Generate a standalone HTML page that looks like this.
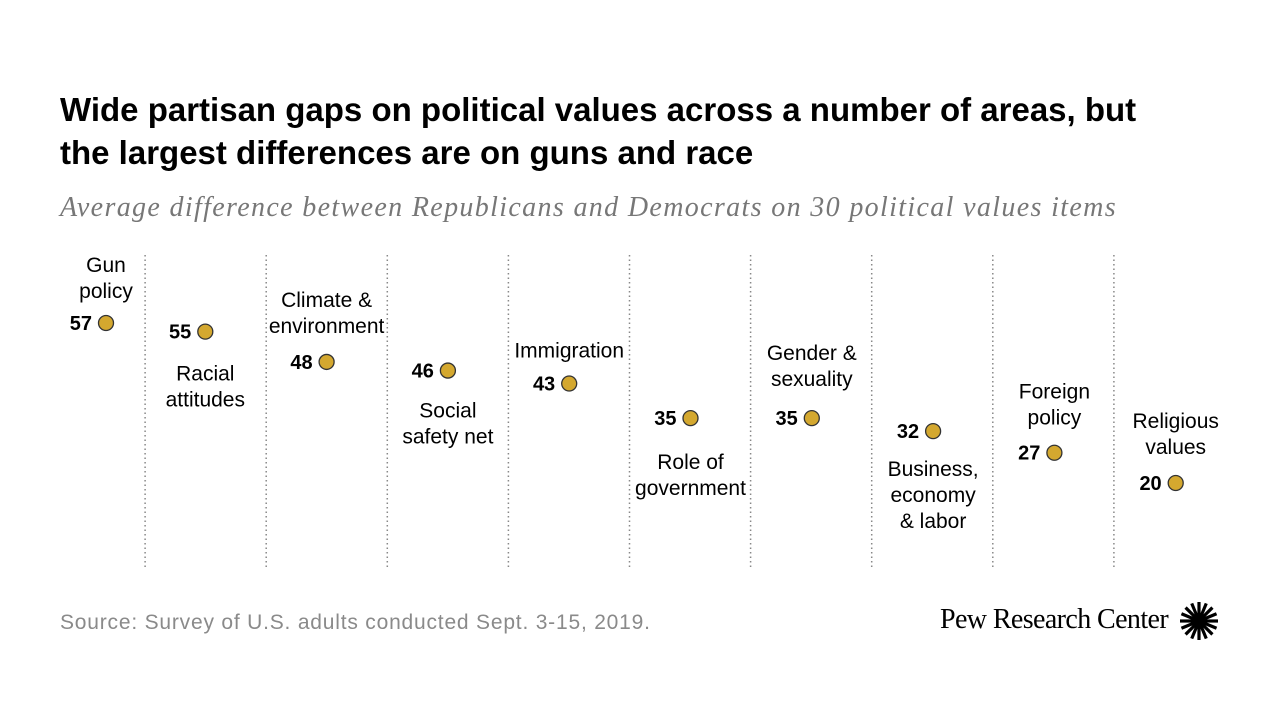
<!DOCTYPE html>
<html><head><meta charset="utf-8"><style>
html,body{margin:0;padding:0;background:#fff;width:1280px;height:720px;overflow:hidden}
body{font-family:"Liberation Sans",sans-serif;position:relative}
.title{position:absolute;left:60px;top:88px;font-size:33px;font-weight:bold;line-height:43px;color:#000;letter-spacing:0px;white-space:nowrap}
.sub{position:absolute;left:60px;top:192px;font-family:"Liberation Serif",serif;font-style:italic;font-size:28px;color:#777;letter-spacing:1.35px;white-space:nowrap}
.src{position:absolute;left:60px;top:611px;font-size:21px;color:#8a8a8a;letter-spacing:0.8px;white-space:nowrap}
.logo{position:absolute;left:940px;top:604px;font-family:"Liberation Serif",serif;font-size:28px;color:#000;letter-spacing:-0.6px;white-space:nowrap}
</style></head><body>
<div class="title">Wide partisan gaps on political values across a number of areas, but<br>the largest differences are on guns and race</div>
<div class="sub">Average difference between Republicans and Democrats on 30 political values items</div>
<svg id="chart" width="1280" height="720" style="position:absolute;left:0;top:0"></svg>
<div class="src">Source: Survey of U.S. adults conducted Sept. 3-15, 2019.</div>
<div class="logo">Pew Research Center</div>
<svg width="40" height="40" style="position:absolute;left:1179px;top:601px">
<g transform="translate(20,20)" id="sun"></g></svg>
<script>
const categories=[["Gun","policy"],["Racial","attitudes"],["Climate &","environment"],["Social","safety net"],["Immigration"],["Role of","government"],["Gender &","sexuality"],["Business,","economy","& labor"],["Foreign","policy"],["Religious","values"]];
const values=[57,55,48,46,43,35,35,32,27,20];
const labelOffsets=[-51,49,-55,47,-26,51,-58,45,-54,-55];
const ns="http://www.w3.org/2000/svg";
const svg=document.getElementById('chart');
function y(v){return 323+(57-v)*4.324;}
function x(i){return i===0?106:84+i*121.3;}
function el(t,a){const e=document.createElementNS(ns,t);for(const k in a)e.setAttribute(k,a[k]);svg.appendChild(e);return e;}
for(let i=1;i<categories.length;i++){
  const l=el('line',{x1:24+i*121.1,x2:24+i*121.1,y1:255,y2:570,stroke:'#888','stroke-width':1.5,'stroke-dasharray':'1.5 3'});
  
  
}
values.forEach((v,i)=>{
  const cx=x(i),cy=y(v);
  const c=el('circle',{cx:cx,cy:cy,r:7.5,fill:'#d4a82f',stroke:'#333','stroke-width':1.3});
  
  
  const t=el('text',{x:cx-14,y:cy+7,'text-anchor':'end','font-size':20,'font-weight':'bold',fill:'#000'});
  t.textContent=v;
  
  
  const lab=el('text',{'text-anchor':'middle','font-size':21,fill:'#000'});
  
  
  categories[i].forEach((s,j)=>{
    const ts=document.createElementNS(ns,'tspan');
    ts.setAttribute('x',cx);ts.setAttribute('y',cy+labelOffsets[i]+j*26);
    ts.textContent=s;lab.appendChild(ts);
  });
});
const sun=document.getElementById('sun');
for(let k=0;k<16;k++){
  const a=k*Math.PI/8;
  const p=document.createElementNS(ns,'line');
  p.setAttribute('x1',4*Math.cos(a));p.setAttribute('y1',4*Math.sin(a));
  p.setAttribute('x2',19*Math.cos(a));p.setAttribute('y2',19*Math.sin(a));
  p.setAttribute('stroke','#000');p.setAttribute('stroke-width','3.2');
  sun.appendChild(p);
}
const cc=document.createElementNS(ns,'circle');cc.setAttribute('r','5');cc.setAttribute('fill','#000');sun.appendChild(cc);
</script>
</body></html>
